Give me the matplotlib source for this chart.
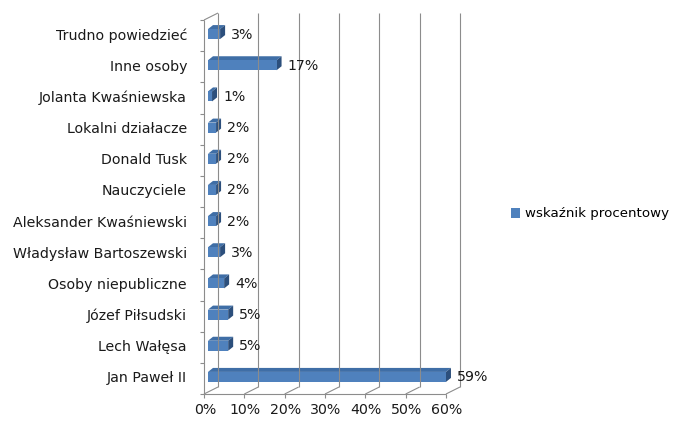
import numpy as np
import matplotlib
matplotlib.use('Agg')
import matplotlib.pyplot as plt
from matplotlib.patches import Polygon, Patch
from matplotlib.transforms import offset_copy

# data (bottom to top)
categories = ['Jan Paweł II', 'Lech Wałęsa', 'Józef Piłsudski', 'Osoby niepubliczne',
              'Władysław Bartoszewski', 'Aleksander Kwaśniewski', 'Nauczyciele',
              'Donald Tusk', 'Lokalni działacze', 'Jolanta Kwaśniewska', 'Inne osoby',
              'Trudno powiedzieć']
values = [59, 5, 5, 4, 3, 2, 2, 2, 2, 1, 17, 3]
x_ticks = [0, 10, 20, 30, 40, 50, 60]
series_name = 'wskaźnik procentowy'

W, H, DPI = 681, 421, 100
fig = plt.figure(figsize=(W / DPI, H / DPI), dpi=DPI)

# front plane of the 3d box in pixels
left_px, right_px, top_px, bottom_px = 204, 446, 20, 394
ax = fig.add_axes([left_px / W, (H - bottom_px) / H,
                   (right_px - left_px) / W, (bottom_px - top_px) / H])
ax.set_xlim(0, 60)
ax.set_ylim(-0.5, len(categories) - 0.5)
ax.axis('off')

px_x = (right_px - left_px) / 60.0
px_y = (bottom_px - top_px) / len(categories)

def d(dx, dy):
    # pixel offset -> data offset
    return dx / px_x, dy / px_y

grid_c = '#8c8c8c'
lw = 0.8
fs = 10.2
txt_c = '#1a1a1a'
depth = d(14, 7)
y0, y1 = -0.5, len(categories) - 0.5
kw = dict(color=grid_c, lw=lw, clip_on=False, solid_capstyle='butt')

# back wall gridlines + floor lines
for xt in x_ticks:
    bx = xt + depth[0]
    ax.plot([bx, bx], [y0 + depth[1], y1 + depth[1]], **kw)
    ax.plot([xt, bx], [y0, y0 + depth[1]], **kw)
    tx, ty = d(0, 4)
    ax.plot([xt, xt], [y0, y0 - ty], **kw)
ax.plot([0, 60], [y0, y0], **kw)
# left side wall
ax.plot([0, 0], [y0, y1], **kw)
ax.plot([0, depth[0]], [y1, y1 + depth[1]], **kw)
tick_len = d(4, 0)[0]
for k in range(len(categories) + 1):
    ax.plot([-tick_len, 0], [y0 + k, y0 + k], **kw)

# bars
bar_h = 10 / px_y
fo = d(4, 1.5)       # front face offset
bd = d(5, 4)         # bar depth
front_c, top_c, side_c = '#4f81bd', '#3f6ea6', '#2c4f7c'
for i, v in enumerate(values):
    x0 = fo[0]
    x1 = v + fo[0]
    yb = i - bar_h / 2 + fo[1]
    yt = i + bar_h / 2 + fo[1]
    ax.add_patch(Polygon([(x0, yt), (x1, yt), (x1 + bd[0], yt + bd[1]), (x0 + bd[0], yt + bd[1])],
                         closed=True, fc=top_c, ec='none', clip_on=False))
    ax.add_patch(Polygon([(x1, yb), (x1 + bd[0], yb + bd[1]), (x1 + bd[0], yt + bd[1]), (x1, yt)],
                         closed=True, fc=side_c, ec='none', clip_on=False))
    ax.add_patch(Polygon([(x0, yb), (x1, yb), (x1, yt), (x0, yt)],
                         closed=True, fc=front_c, ec='none', clip_on=False))
    lab_tr = offset_copy(ax.transData, fig=fig, x=15, y=1, units='dots')
    ax.text(v, i, f'{v}%', transform=lab_tr, ha='left', va='center',
            fontsize=fs, color=txt_c, clip_on=False)

# category labels
cat_tr = offset_copy(ax.transData, fig=fig, x=-17, y=0, units='dots')
for i, c in enumerate(categories):
    ax.text(0, i, c, transform=cat_tr, ha='right', va='center',
            fontsize=fs, color=txt_c)

# x tick labels
xt_tr = offset_copy(ax.transData, fig=fig, x=1, y=-16, units='dots')
for xt in x_ticks:
    ax.text(xt, y0, f'{xt}%', transform=xt_tr, ha='center', va='center',
            fontsize=fs, color=txt_c)

handle = Patch(facecolor=front_c, edgecolor='none')
fig.legend([handle], [series_name], loc='center left',
           bbox_to_anchor=(499 / W, 1 - 214 / H), frameon=False,
           handlelength=0.7, handleheight=0.7, handletextpad=0.35,
           prop={'size': 9.6})

fig.savefig('out.png', dpi=DPI)
